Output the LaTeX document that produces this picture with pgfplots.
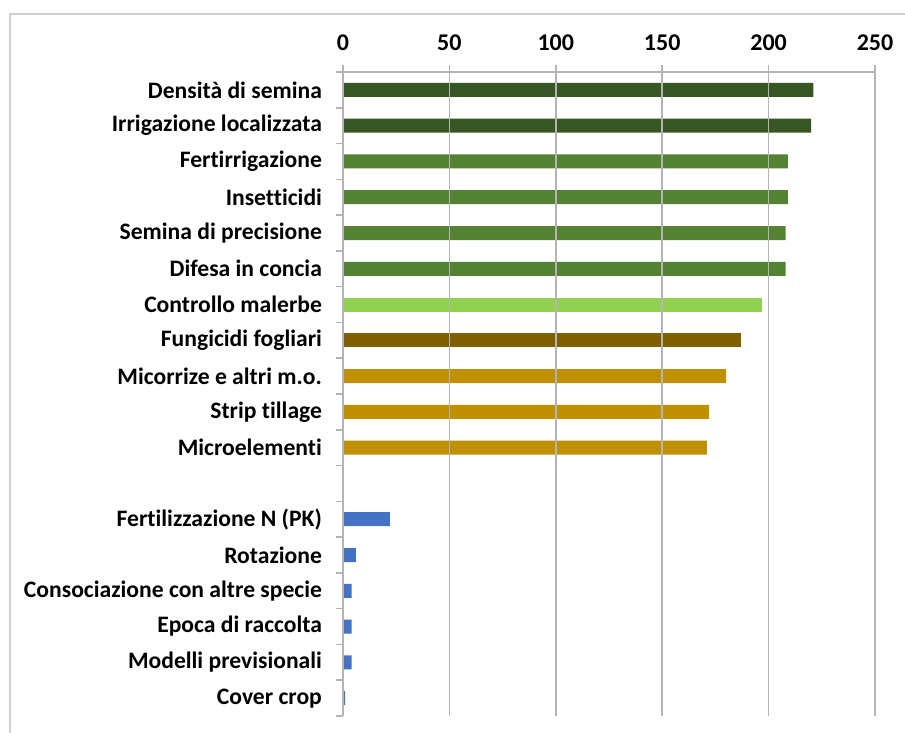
\documentclass[border=0pt]{standalone}
\usepackage{pgfplots}
\pgfplotsset{compat=1.18}
\usepackage{fontspec}
\setmainfont{Carlito}[Ligatures={NoCommon,NoRequired,NoContextual}]
\definecolor{dkgreen}{HTML}{375623}
\definecolor{mdgreen}{HTML}{548235}
\definecolor{ltgreen}{HTML}{92D050}
\definecolor{brownc}{HTML}{7F6000}
\definecolor{goldc}{HTML}{BF9000}
\definecolor{bluec}{HTML}{4472C4}
\definecolor{gridc}{HTML}{B4B4B4}
\definecolor{framec}{HTML}{D0D0D0}
\begin{document}
\begin{tikzpicture}
\path[use as bounding box] (-171.5pt,-8.5pt) rectangle (281pt,358pt);
\draw[framec, line width=0.8pt] (-166.5pt,-10pt) -- (-166.5pt,351pt) -- (285pt,351pt);
\begin{axis}[
  at={(0,0)}, anchor=south west,
  scale only axis, width=266pt, height=322pt,
  xbar, bar shift=0pt, bar width=7pt,
  xmin=0, xmax=250, ymin=-0.5, ymax=17.5, y dir=reverse,
  axis x line*=top, axis y line*=left,
  axis line style={gridc, line width=0.8pt},
  xtick={0,50,...,250},
  xmajorgrids, grid style={gridc, line width=0.8pt},
  tick align=outside, major tick length=3.5pt, minor tick length=3.5pt,
  x tick style={gridc, line width=0.8pt},
  xticklabel style={font=\fontsize{12}{14}\selectfont\bfseries, yshift=3.5pt},
  ytick={0,...,17},
  yticklabels={Densità di semina, Irrigazione localizzata, Fertirrigazione, Insetticidi, Semina di precisione, Difesa in concia, Controllo malerbe, Fungicidi fogliari, Micorrize e altri m.o., Strip tillage, Microelementi, {}, Fertilizzazione N (PK), Rotazione, Consociazione con altre specie, Epoca di raccolta, Modelli previsionali, Cover crop},
  major y tick style={draw=none},
  minor ytick={-0.5,0.5,...,17.5},
  minor y tick style={draw=gridc, line width=0.8pt},
  yticklabel style={font=\fontsize{11.8}{14}\selectfont\bfseries, xshift=-3.5pt},
  /pgf/number format/assume math mode=true,
  axis on top,
  clip=false,
]
\addplot[fill=dkgreen, draw=none] coordinates {(221,0) (220,1)};
\addplot[fill=mdgreen, draw=none] coordinates {(209,2) (209,3) (208,4) (208,5)};
\addplot[fill=ltgreen, draw=none] coordinates {(197,6)};
\addplot[fill=brownc, draw=none] coordinates {(187,7)};
\addplot[fill=goldc, draw=none] coordinates {(180,8) (172,9) (171,10)};
\addplot[fill=bluec, draw=none] coordinates {(22,12) (6,13) (4,14) (4,15) (4,16) (1,17)};
\end{axis}
\end{tikzpicture}
\end{document}
